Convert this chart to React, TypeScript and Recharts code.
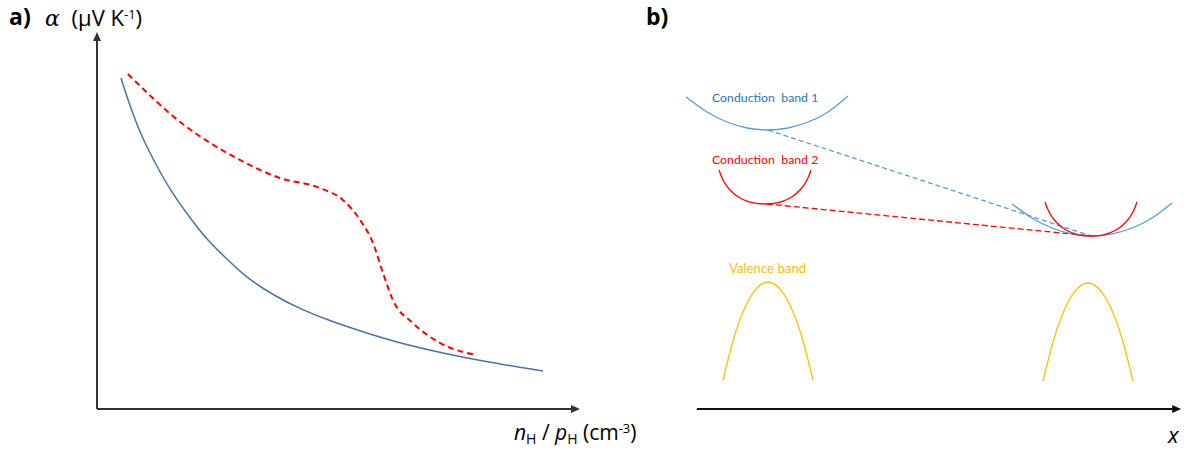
import React from "react";
import { LineChart, Line, XAxis, YAxis, ReferenceLine } from "recharts";

// panel a: Seebeck coefficient vs carrier concentration (arbitrary units, 0-100)
const singleBandX = [5.05, 6.95, 9.05, 12.21, 15.37, 19.58, 23.16, 28.0, 31.58, 37.05, 42.74, 49.05, 56.0, 66.53, 80.63, 93.89];
const singleBandY = [89.7, 82.11, 74.8, 66.67, 59.35, 51.76, 45.8, 39.84, 35.5, 30.89, 27.1, 23.85, 20.87, 16.8, 13.0, 10.3];
const convergedX = [6.5, 17.5, 30.1, 38.5, 46.9, 51.8, 55.4, 58.1, 60.2, 62.3, 66.5, 72.2, 80];
const convergedY = [90.8, 77.8, 67.5, 62.6, 59.9, 56.6, 51.2, 45, 36.9, 29.5, 23.3, 17.9, 14.6];

// panel b: band diagram, energy vs x (arbitrary units)
const cb1LeftX = [-2.27, 2.14, 6.34, 10.54, 14.84, 19.15, 23.34, 27.54, 31.74];
const cb1LeftY = [84.55, 80.49, 77.78, 76.15, 75.61, 76.15, 77.78, 80.49, 84.82];
const cb1RightX = [66.17, 70.37, 74.57, 78.76, 82.96, 87.16, 91.36, 95.56, 99.76];
const cb1RightY = [55.56, 51.76, 49.05, 47.43, 46.88, 47.43, 49.05, 51.76, 55.83];
const cb2LeftX = [4.66, 5.5, 6.97, 9.07, 11.8, 14.32, 16.84, 19.57, 21.66, 23.13, 23.97];
const cb2LeftY = [64.77, 62.06, 59.35, 57.18, 55.83, 55.56, 55.83, 57.18, 59.35, 62.06, 64.77];
const cb2RightX = [73.1, 73.94, 75.41, 77.5, 80.23, 82.75, 85.27, 88.0, 90.1, 91.57, 92.41];
const cb2RightY = [56.1, 53.39, 50.68, 48.51, 47.15, 46.88, 47.15, 48.51, 50.68, 53.39, 56.1];
const vbLeftX = [5.5, 7.6, 9.7, 11.8, 13.48, 14.95, 16.42, 18.1, 20.19, 22.29, 24.39];
const vbLeftY = [7.86, 18.43, 26.29, 31.44, 33.77, 34.42, 33.77, 31.44, 26.29, 18.43, 7.86];
const vbRightX = [72.68, 74.78, 76.88, 78.97, 80.65, 82.12, 83.59, 85.27, 87.37, 89.47, 91.57];
const vbRightY = [7.59, 18.16, 26.02, 31.17, 33.5, 34.15, 33.5, 31.17, 26.02, 18.16, 7.59];
const cb1LinkX = [15.0, 82.75];
const cb1LinkY = [75.6, 46.9];
const cb2LinkX = [14.7, 82.75];
const cb2LinkY = [55.56, 46.9];

const zip = (xs: number[], ys: number[]) => xs.map((x, i) => ({ x, y: ys[i] }));

const TEXT_FONT = "'Open Sans', Lato, sans-serif";
const SMALL_FONT = "Lato, 'Open Sans', sans-serif";
const MATH_FONT = "'DejaVu Serif', 'Liberation Serif', serif";

const BLUE = "#5b9bd5";
const RED = "#ff0000";
const GOLD = "#ffc000";

function Label({ left, top, size, color = "#000", bold, font = TEXT_FONT, children }: {
  left: number; top: number; size: number; color?: string; bold?: boolean; font?: string; children: React.ReactNode;
}) {
  return (
    <div style={{
      position: "absolute", left, top, fontSize: size, lineHeight: 1, color,
      fontWeight: bold ? 700 : 400, fontFamily: font, whiteSpace: "pre",
    }}>
      {children}
    </div>
  );
}

const Sub = ({ children }: { children: React.ReactNode }) => (
  <span style={{ fontSize: 14, position: "relative", top: 4 }}>{children}</span>
);
const Sup = ({ children }: { children: React.ReactNode }) => (
  <span style={{ fontSize: 13, position: "relative", top: -7 }}>{children}</span>
);

export default function App() {
  return (
    <div style={{ position: "absolute", left: 0, top: 0, width: 1199, height: 452, background: "#fff", overflow: "hidden" }}>
      <svg width={0} height={0} style={{ position: "absolute" }}>
        <defs>
          <marker id="arrowA" markerUnits="userSpaceOnUse" markerWidth={10} markerHeight={10} refX={1} refY={5} orient="auto">
            <path d="M0,1 L9,5 L0,9 z" fill="#333" />
          </marker>
          <marker id="arrowB" markerUnits="userSpaceOnUse" markerWidth={10} markerHeight={10} refX={1} refY={5} orient="auto">
            <path d="M0,1 L9,5 L0,9 z" fill="#111" />
          </marker>
        </defs>
      </svg>

      {/* panel a */}
      <div style={{ position: "absolute", left: 0, top: 0 }}>
        <LineChart width={600} height={452} margin={{ top: 40, right: 28, bottom: 43, left: 97 }}>
          <XAxis type="number" dataKey="x" domain={[0, 100]} hide allowDataOverflow />
          <YAxis type="number" dataKey="y" domain={[0, 100]} hide allowDataOverflow />
          <ReferenceLine segment={[{ x: 0, y: 0 }, { x: 100, y: 0 }]} stroke="#333" strokeWidth={2} ifOverflow="visible" markerEnd="url(#arrowA)" />
          <ReferenceLine segment={[{ x: 0, y: 0 }, { x: 0, y: 100 }]} stroke="#333" strokeWidth={2} ifOverflow="visible" markerEnd="url(#arrowA)" />
          <Line data={zip(singleBandX, singleBandY)} dataKey="y" type="basis" stroke="#4a72a6" strokeWidth={1.5} dot={false} isAnimationActive={false} />
          <Line data={zip(convergedX, convergedY)} dataKey="y" type="monotone" stroke={RED} strokeWidth={2} strokeDasharray="6 4" dot={false} isAnimationActive={false} />
        </LineChart>
      </div>

      {/* panel b */}
      <div style={{ position: "absolute", left: 600, top: 0 }}>
        <LineChart width={599} height={452} margin={{ top: 40, right: 2, bottom: 43, left: 73 }}>
          <XAxis type="number" dataKey="x" domain={[-5, 105]} hide allowDataOverflow />
          <YAxis type="number" dataKey="y" domain={[0, 100]} hide allowDataOverflow />
          <ReferenceLine segment={[{ x: 0, y: 0 }, { x: 100, y: 0 }]} stroke="#111" strokeWidth={2} ifOverflow="visible" markerEnd="url(#arrowB)" />
          <Line data={zip(cb1LinkX, cb1LinkY)} dataKey="y" type="linear" stroke={BLUE} strokeWidth={1.3} strokeDasharray="5 3" dot={false} isAnimationActive={false} />
          <Line data={zip(cb2LinkX, cb2LinkY)} dataKey="y" type="linear" stroke={RED} strokeWidth={1.3} strokeDasharray="6 3" dot={false} isAnimationActive={false} />
          <Line data={zip(cb1LeftX, cb1LeftY)} dataKey="y" type="natural" stroke={BLUE} strokeWidth={1.3} dot={false} isAnimationActive={false} />
          <Line data={zip(cb1RightX, cb1RightY)} dataKey="y" type="natural" stroke={BLUE} strokeWidth={1.3} dot={false} isAnimationActive={false} />
          <Line data={zip(cb2LeftX, cb2LeftY)} dataKey="y" type="natural" stroke={RED} strokeWidth={1.3} dot={false} isAnimationActive={false} />
          <Line data={zip(cb2RightX, cb2RightY)} dataKey="y" type="natural" stroke={RED} strokeWidth={1.3} dot={false} isAnimationActive={false} />
          <Line data={zip(vbLeftX, vbLeftY)} dataKey="y" type="natural" stroke={GOLD} strokeWidth={1.3} dot={false} isAnimationActive={false} />
          <Line data={zip(vbRightX, vbRightY)} dataKey="y" type="natural" stroke={GOLD} strokeWidth={1.3} dot={false} isAnimationActive={false} />
        </LineChart>
      </div>

      <Label left={9} top={5} size={23} bold>a)</Label>
      <Label left={45} top={6} size={22}>
        <span style={{ fontFamily: MATH_FONT, fontStyle: "italic", marginRight: 6 }}>α</span> (μV K<Sup>-1</Sup>)
      </Label>
      <Label left={514} top={422} size={21}>
        <i>n</i><Sub>H</Sub> / <i>p</i><Sub>H</Sub> (cm<Sup>-3</Sup>)
      </Label>
      <Label left={646} top={5} size={23} bold>b)</Label>
      <Label left={1168} top={423} size={22}><i>x</i></Label>

      <Label left={712} top={92} size={12.3} color="#2e75b6" font={SMALL_FONT}>{"Conduction  band 1"}</Label>
      <Label left={712} top={154} size={12.3} color={RED} font={SMALL_FONT}>{"Conduction  band 2"}</Label>
      <Label left={729} top={262} size={13.2} color={GOLD} font={SMALL_FONT}>Valence band</Label>
    </div>
  );
}
